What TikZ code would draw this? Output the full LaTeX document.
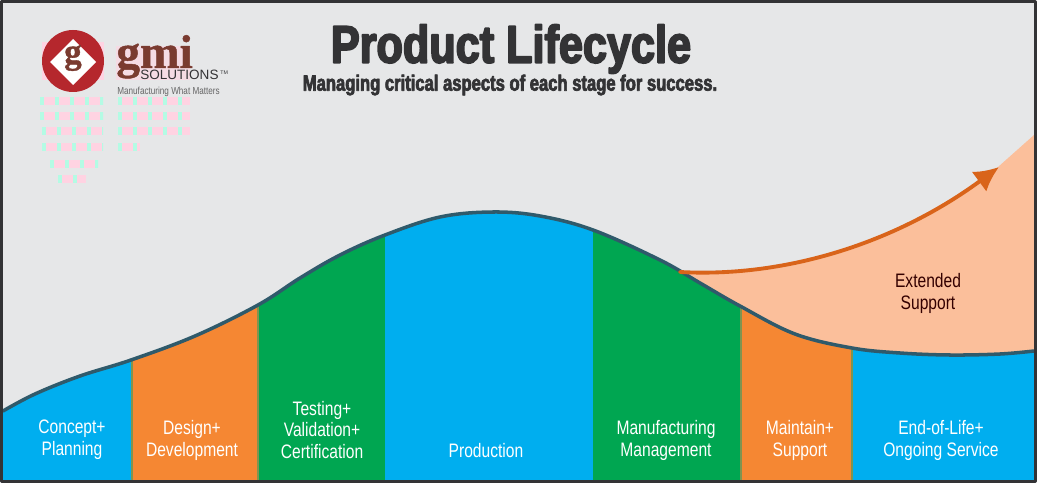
\documentclass[tikz,border=0pt]{standalone}
\usepackage{fontspec}
\setmainfont{Liberation Sans}
\usetikzlibrary{arrows.meta}
\newfontfamily\titlefont[FakeStretch=0.82,FakeBold=3.4]{Liberation Sans Bold}
\newfontfamily\subtitlefont[FakeStretch=0.75,FakeBold=3]{Liberation Sans Bold}
\newfontfamily\stagefont[FakeStretch=0.8]{Liberation Sans}
\newfontfamily\logofont[FakeBold=1]{Liberation Serif Bold}
\definecolor{paneback}{HTML}{E6E7E8}
\definecolor{frameline}{HTML}{333335}
\definecolor{stageblue}{HTML}{00AEEF}
\definecolor{stageorange}{HTML}{F58733}
\definecolor{stagegreen}{HTML}{00A651}
\definecolor{stagepeach}{HTML}{FBBF9B}
\definecolor{curveline}{HTML}{2F5A6B}
\definecolor{arrowline}{HTML}{D9641A}
\definecolor{seamline}{HTML}{7F9450}
\definecolor{logored}{HTML}{B5272D}
\definecolor{logobrown}{HTML}{7A3B30}
\definecolor{ghostpink}{HTML}{FFD3E2}
\definecolor{ghostcyan}{HTML}{B4FBE4}
\tikzset{
	lifecurve/.style={insert path={plot[smooth,tension=0.6] coordinates {(3,411) (35,394) (80,376) (131,360) (195,336) (258,305) (300,278) (340,255) (385,235) (440,217) (493,212) (540,216) (593,230) (660,260) (700,283) (740,306) (795,334) (852,348) (900,353) (950,355) (1000,354) (1034,351)}}},
	stagelabel/.style={text=white, align=center, font=\stagefont\fontsize{11.1}{12.5}\selectfont},
	seam/.style={seamline, line width=1.5pt},
}
\begin{document}
\begin{tikzpicture}[x=0.02cm, y=-0.02cm, >=Latex, line cap=round, line join=round]
		\useasboundingbox (0,0) rectangle (1037,483);
		\fill[paneback] (0,0) rectangle (1037,483);
		
		%========================
		% Extended support area
		%========================
		\fill[stagepeach] (680,272) .. controls (790,278) and (900,240) .. (998,167)
		-- (1034,135) -- (1034,370) -- (740,370) -- cycle;
		
		%========================
		% Stages under the curve
		%========================
		\begin{scope}
			\clip[lifecurve] -- (1034,480) -- (3,480) -- cycle;
			\fill[stageblue] (3,200) rectangle (131,480);
			\fill[stageorange] (131,200) rectangle (258,480);
			\fill[stagegreen] (258,200) rectangle (385,480);
			\fill[stageblue] (385,200) rectangle (593,480);
			\fill[stagegreen] (593,200) rectangle (740,480);
			\fill[stageorange] (740,200) rectangle (852,480);
			\fill[stageblue] (852,200) rectangle (1034,480);
			% seams between stages
			\foreach \seamx in {132,258,741,852}
				\draw[seam] (\seamx,200) -- (\seamx,480);
		\end{scope}
		\draw[curveline, line width=2pt, lifecurve];
		
		% growth arrow
		\coordinate (growthstart) at (680,272);
		\coordinate (growthend) at (999,167);
		\draw[arrowline, line width=2.2pt, -{Latex[length=14pt,width=14pt]}]
		(growthstart) .. controls (790,278) and (900,240) .. (growthend);
		
		%========================
		% Stage labels
		%========================
		\node[stagelabel] (concept) at (72,440) {Concept+\\Planning};
		\node[stagelabel] (design) at (192,440) {Design+\\Development};
		\node[stagelabel] (testing) at (322,430) {Testing+\\Validation+\\Certification};
		\node[stagelabel] (production) at (486,451) {Production};
		\node[stagelabel] (management) at (666,440) {Manufacturing\\Management};
		\node[stagelabel] (maintain) at (800,440) {Maintain+\\Support};
		\node[stagelabel] (endoflife) at (941,440) {End-of-Life+\\Ongoing Service};
		\node[stagelabel, text=black!80!red] (extended) at (928,293) {Extended\\Support};
		
		%========================
		% Title
		%========================
		\node[text=frameline, font=\titlefont\fontsize{30}{32}\selectfont] (title) at (511,49) {Product Lifecycle};
		\node[text=frameline, font=\subtitlefont\fontsize{12.6}{15}\selectfont] (subtitle) at (510,85) {Managing critical aspects of each stage for success.};
		
		%========================
		% Logo
		%========================
		% pale blotches round and under the logo
		\fill[ghostpink] (42,42) rectangle (104,80);
		\fill[ghostpink] (60,33) rectangle (86,90);
		\fill[ghostpink!60!paneback] (116,46) rectangle (190,80);
		\foreach \rowy/\rowa/\rowb in {97/40/103,112/40/103,127/42/103,143/42/103,160/50/98,175/58/86,97/118/190,112/118/190,127/118/190,143/118/140}{
			\begin{scope}
				\clip (\rowa,\rowy) rectangle (\rowb,\rowy+8);
				\fill[ghostpink] (\rowa,\rowy) rectangle (\rowb,\rowy+8);
				\foreach \cellstep in {0,...,5}
					\fill[ghostcyan] (\rowa+\cellstep*15,\rowy) rectangle +(4,8);
			\end{scope}
		}
		\fill[logored] (73,61) circle (31);
		\fill[white] (73,39) -- (96,62) -- (73,85) -- (50,62) -- cycle;
		\node[text=logobrown, font=\logofont\fontsize{20}{20}\selectfont] (logog) at (73,58) {g};
		\node[text=logobrown, font=\logofont\fontsize{27}{27}\selectfont, anchor=base west, inner sep=0pt] (logoname) at (116,68) {gmi};
		\node[text=frameline, font=\fontsize{7.7}{9}\selectfont, anchor=base west, inner sep=0pt] (logosub) at (140,80) {SOLUTIONS};
		\node[text=frameline, font=\fontsize{3}{4}\selectfont, anchor=base west, inner sep=0pt] (logomark) at (220,74) {TM};
		\node[text=black!60, font=\stagefont\fontsize{5.8}{7}\selectfont, anchor=base west, inner sep=0pt] (logotag) at (117,94) {Manufacturing What Matters};
		
		% frame
		\draw[frameline, line width=1.7pt] (1.5,1.5) rectangle (1035.5,481.5);
	\end{tikzpicture}
\end{document}
